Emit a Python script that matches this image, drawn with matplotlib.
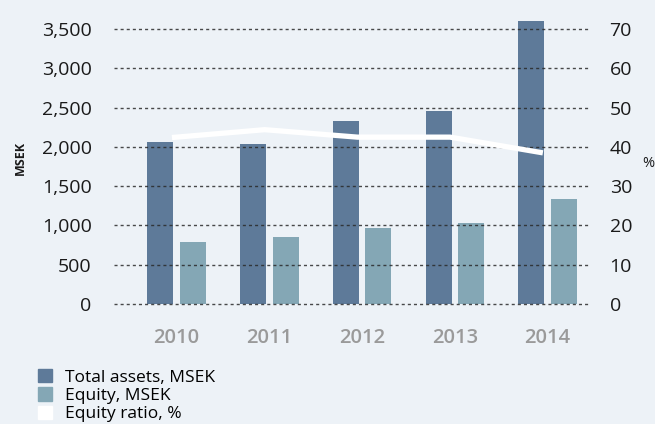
import matplotlib
matplotlib.use("Agg")
import matplotlib.pyplot as plt
import numpy as np
from matplotlib.patches import Patch

years = ["2010", "2011", "2012", "2013", "2014"]
total_assets = [2062, 2036, 2329, 2456, 3602]
equity = [789, 853, 967, 1031, 1336]
equity_ratio = [42.4, 44.4, 42.5, 42.5, 38.5]
left_ticks = [0, 500, 1000, 1500, 2000, 2500, 3000, 3500]
right_ticks = [0, 10, 20, 30, 40, 50, 60, 70]

bg = "#EDF2F7"
c_total = "#5E7A99"
c_equity = "#84A7B5"
font = "Open Sans"

fig = plt.figure(figsize=(6.55, 4.24), dpi=100, facecolor=bg)
ax = fig.add_axes([0.174, 0.283, 0.727, 0.676])
ax.set_facecolor(bg)

x = np.arange(len(years))
w = 0.28
ax.bar(x - 0.175, total_assets, width=w, color=c_total, zorder=1)
ax.bar(x + 0.175, equity, width=w, color=c_equity, zorder=1)

ymax = 3650
ax.set_ylim(0, ymax)
ax.set_xlim(-0.675, 4.46)
ax.set_yticks(left_ticks)
ax.set_yticklabels([f"{v:,}" for v in left_ticks], fontsize=14, family=font, color="#1a1a1a")
ax.set_xticks(x)
ax.set_xticklabels(years, fontsize=14.5, family=font, color="#9a9a9a", fontweight="semibold")
ax.tick_params(axis="both", length=0)
ax.tick_params(axis="y", pad=16)
ax.tick_params(axis="x", pad=17)
for s in ax.spines.values():
    s.set_visible(False)
for v in left_ticks:
    ax.axhline(v, color="#2a2a2a", lw=1.0, ls=(0, (2.2, 2.2)), alpha=0.85,
               zorder=2, clip_on=False)

ax2 = ax.twinx()
ax2.set_ylim(0, ymax / 50)
ax2.set_yticks(right_ticks)
ax2.set_yticklabels([str(v) for v in right_ticks], fontsize=14, family=font, color="#1a1a1a")
ax2.tick_params(axis="y", length=0, pad=14)
for s in ax2.spines.values():
    s.set_visible(False)
ax2.plot(x - 0.05, equity_ratio, color="white", lw=3.8, zorder=3, solid_capstyle="butt")

fig.text(0.031, 0.628, "MSEK", rotation=90, fontsize=9, fontweight="bold",
         family=font, ha="center", va="center", color="#1a1a1a")
fig.text(0.990, 0.615, "%", fontsize=10.5, family=font, ha="center", va="center", color="#1a1a1a")

handles = [Patch(color=c_total), Patch(color=c_equity), Patch(color="white")]
labels = ["Total assets, MSEK", "Equity, MSEK", "Equity ratio, %"]
fig.legend(handles, labels, loc="upper left", bbox_to_anchor=(0.058, 0.13),
           frameon=False, prop={"family": font, "size": 12.5},
           handlelength=0.8, handleheight=0.8, handletextpad=0.75,
           labelspacing=0.1, borderpad=0, borderaxespad=0)

fig.savefig("out.png", dpi=100, facecolor=bg)
